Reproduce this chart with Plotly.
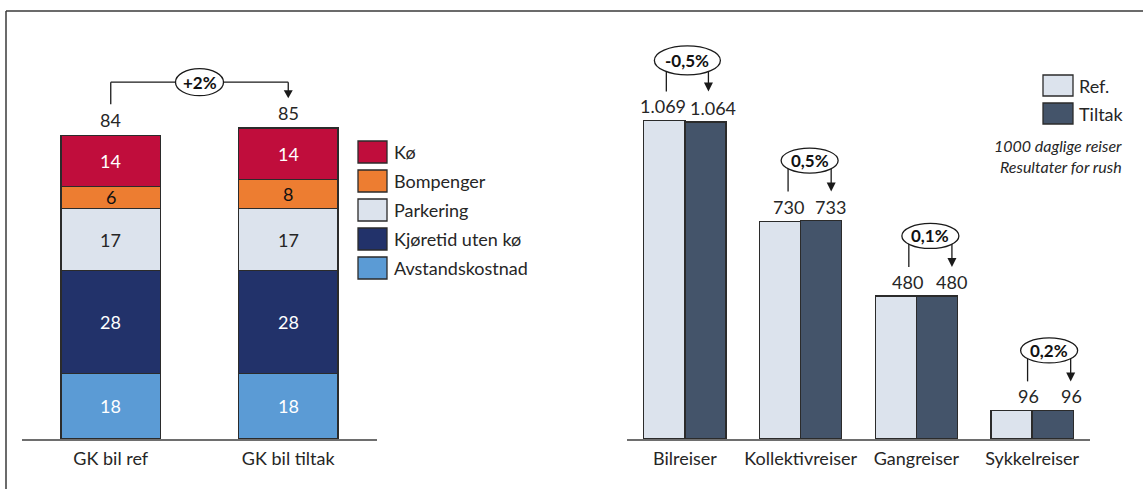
import plotly.graph_objects as go

W, H = 1143, 489

# ---- Left panel: generalised cost (GK) for car, stacked by component ----
gk_categories = ["GK bil ref", "GK bil tiltak"]
components = ["Avstandskostnad", "Kjøretid uten kø", "Parkering", "Bompenger", "Kø"]
avstandskostnad = [18, 18]
kjoretid_uten_ko = [28, 28]
parkering = [17, 17]
bompenger = [6, 8]
ko = [14, 14]
gk_totals = [84, 85]
gk_change = "+2%"

# ---- Right panel: daily trips by mode ----
trip_categories = ["Bilreiser", "Kollektivreiser", "Gangreiser", "Sykkelreiser"]
trips_ref = [1069, 730, 480, 96]
trips_tiltak = [1064, 733, 480, 96]
trip_labels_ref = ["1.069", "730", "480", "96"]
trip_labels_tiltak = ["1.064", "733", "480", "96"]
trip_changes = ["-0,5%", "0,5%", "0,1%", "0,2%"]
series_names = ["Ref.", "Tiltak"]
notes = ["1000 daglige reiser", "Resultater for rush"]

# ---- styling ----
FONT = "Lato, 'Open Sans', sans-serif"
TXT = "#262626"
EDGE = "#2b2b2b"
comp_colors = {
    "Avstandskostnad": "#5B9BD5",
    "Kjøretid uten kø": "#22326A",
    "Parkering": "#DCE3ED",
    "Bompenger": "#ED7D31",
    "Kø": "#C00D3C",
}
comp_text = {
    "Avstandskostnad": "white",
    "Kjøretid uten kø": "white",
    "Parkering": TXT,
    "Bompenger": "#111111",
    "Kø": "white",
}
ref_color = "#DCE3ED"
tiltak_color = "#44546A"

# plot area geometry (pixels from top / left)
Y_TOP, Y_BASE = 40, 439
PX_PER_GK = 3.66
PX_PER_TRIP = 0.298
plot_h = Y_BASE - Y_TOP
y_dom = [1 - Y_BASE / H, 1 - Y_TOP / H]


def px(x):
    return x / W


def py(y):
    return 1 - y / H


fig = go.Figure()

# stacked bars, bottom component first
comp_values = {
    "Avstandskostnad": avstandskostnad,
    "Kjøretid uten kø": kjoretid_uten_ko,
    "Parkering": parkering,
    "Bompenger": bompenger,
    "Kø": ko,
}
gk_x = list(range(len(gk_categories)))
for name in components:
    fig.add_trace(go.Bar(
        x=gk_x, y=comp_values[name], width=0.56, name=name,
        marker=dict(color=comp_colors[name], line=dict(color=EDGE, width=1.2)),
        xaxis="x", yaxis="y", showlegend=False, hoverinfo="skip",
    ))

# grouped bars for trips
BW = 0.355
trip_x = list(range(len(trip_categories)))
fig.add_trace(go.Bar(
    x=[i - BW / 2 for i in trip_x], y=trips_ref, width=BW, name=series_names[0],
    marker=dict(color=ref_color, line=dict(color=EDGE, width=1.3)),
    xaxis="x2", yaxis="y2", showlegend=False, hoverinfo="skip",
))
fig.add_trace(go.Bar(
    x=[i + BW / 2 for i in trip_x], y=trips_tiltak, width=BW, name=series_names[1],
    marker=dict(color=tiltak_color, line=dict(color=EDGE, width=1.3)),
    xaxis="x2", yaxis="y2", showlegend=False, hoverinfo="skip",
))

annotations = []
shapes = []
LINE = dict(color="#1a1a1a", width=1.3)
FS = 18

# segment labels in the stacks
for j in gk_x:
    cum = 0
    for name in components:
        v = comp_values[name][j]
        annotations.append(dict(
            x=j, y=cum + v / 2, xref="x", yref="y", text=str(v), showarrow=False,
            font=dict(family=FONT, size=FS, color=comp_text[name]),
        ))
        cum += v

stack_tops = [sum(comp_values[n][j] for n in components) for j in gk_x]

# totals above stacks
for j in gk_x:
    annotations.append(dict(
        x=j, y=stack_tops[j], xref="x", yref="y", text=str(gk_totals[j]),
        showarrow=False, yshift=15, font=dict(family=FONT, size=FS, color=TXT),
    ))

# change bracket between the two stacks (anchored at first stack's top)
a0 = stack_tops[0]
BR = 53
shapes += [
    dict(type="line", xref="x", yref="y", xsizemode="pixel", xanchor=0, x0=0, x1=0,
         ysizemode="pixel", yanchor=a0, y0=31, y1=BR, line=LINE),
    dict(type="line", xref="x", yref="y", x0=0, x1=1,
         ysizemode="pixel", yanchor=a0, y0=BR, y1=BR, line=LINE),
    dict(type="line", xref="x", yref="y", xsizemode="pixel", xanchor=1, x0=0, x1=0,
         ysizemode="pixel", yanchor=a0, y0=44, y1=BR, line=LINE),
    dict(type="path", xref="x", yref="y", xsizemode="pixel", xanchor=1,
         ysizemode="pixel", yanchor=a0, path="M -4.5,45 L 4.5,45 L 0,37 Z",
         fillcolor="#1a1a1a", line=dict(width=0)),
    dict(type="circle", xref="x", yref="y", xsizemode="pixel", xanchor=0.5,
         x0=-24, x1=24, ysizemode="pixel", yanchor=a0, y0=BR - 13.5, y1=BR + 13.5,
         fillcolor="white", line=LINE),
]
annotations.append(dict(
    x=0.5, y=a0, xref="x", yref="y", text="<b>%s</b>" % gk_change, showarrow=False,
    yshift=BR, font=dict(family=FONT, size=17, color="#111111"),
))

# trip value labels and change brackets (pixel nudges to the right)
ref_label_shift = [-1, 8, 12, 17]
tiltak_label_shift = [8, 9, 15, 19]
ref_line_shift = [2, 8, 13, 16]
tiltak_line_shift = [3, 10, 15, 18]
for i in trip_x:
    xr, xt = i - BW / 2, i + BW / 2
    annotations.append(dict(
        x=xr, y=trips_ref[i], xref="x2", yref="y2", text=trip_labels_ref[i],
        showarrow=False, xshift=ref_label_shift[i], yshift=14,
        font=dict(family=FONT, size=FS, color=TXT),
    ))
    annotations.append(dict(
        x=xt, y=trips_tiltak[i], xref="x2", yref="y2", text=trip_labels_tiltak[i],
        showarrow=False, xshift=tiltak_label_shift[i], yshift=14,
        font=dict(family=FONT, size=FS, color=TXT),
    ))
    top = max(trips_ref[i], trips_tiltak[i])
    sr, st = ref_line_shift[i], tiltak_line_shift[i]
    so = (sr + st) / 2
    ow = 9 * len(trip_changes[i]) + 21
    oh = 29 if i == 0 else 25
    shapes += [
        dict(type="line", xref="x2", yref="y2", xsizemode="pixel", xanchor=xr, x0=sr, x1=sr,
             ysizemode="pixel", yanchor=top, y0=29, y1=60, line=LINE),
        dict(type="line", xref="x2", yref="y2", xsizemode="pixel", xanchor=xt, x0=st, x1=st,
             ysizemode="pixel", yanchor=top, y0=37, y1=60, line=LINE),
        dict(type="path", xref="x2", yref="y2", xsizemode="pixel", xanchor=xt,
             ysizemode="pixel", yanchor=top,
             path="M %g,38 L %g,38 L %g,29 Z" % (st - 4.5, st + 4.5, st),
             fillcolor="#1a1a1a", line=dict(width=0)),
        dict(type="circle", xref="x2", yref="y2", xsizemode="pixel", xanchor=i,
             x0=so - ow / 2, x1=so + ow / 2, ysizemode="pixel", yanchor=top,
             y0=60 - oh / 2, y1=60 + oh / 2, fillcolor="white", line=LINE),
    ]
    annotations.append(dict(
        x=i, y=top, xref="x2", yref="y2", text="<b>%s</b>" % trip_changes[i],
        showarrow=False, xshift=so, yshift=60, font=dict(family=FONT, size=17, color="#111111"),
    ))

# legend for the stacked components (top to bottom)
leg_top = 141
for k, name in enumerate(reversed(components)):
    y0 = leg_top + k * 29
    shapes.append(dict(type="rect", xref="paper", yref="paper",
                       x0=px(358), x1=px(387), y0=py(y0), y1=py(y0 + 22),
                       fillcolor=comp_colors[name], line=dict(color=EDGE, width=1.3)))
    annotations.append(dict(x=px(392), y=py(y0 + 11), xref="paper", yref="paper",
                            text=name, showarrow=False, xanchor="left", yanchor="middle",
                            font=dict(family=FONT, size=FS, color=TXT)))

# legend for the trip series
for k, (name, col) in enumerate(zip(series_names, [ref_color, tiltak_color])):
    y0 = 75 + k * 28
    shapes.append(dict(type="rect", xref="paper", yref="paper",
                       x0=px(1043), x1=px(1073), y0=py(y0), y1=py(y0 + 21),
                       fillcolor=col, line=dict(color=EDGE, width=1.3)))
    annotations.append(dict(x=px(1077), y=py(y0 + 10.5), xref="paper", yref="paper",
                            text=name, showarrow=False, xanchor="left", yanchor="middle",
                            font=dict(family=FONT, size=FS, color=TXT)))
for k, note in enumerate(notes):
    annotations.append(dict(x=px(1124), y=py(145 + k * 21), xref="paper", yref="paper",
                            text="<i>%s</i>" % note, showarrow=False, xanchor="right",
                            yanchor="middle", font=dict(family=FONT, size=16, color=TXT)))

# outer frame (top and left edges)
frame = dict(color="#3a3a3a", width=1.5)
shapes.append(dict(type="line", xref="paper", yref="paper", x0=px(6), x1=1.0,
                   y0=py(11), y1=py(11), line=frame))
shapes.append(dict(type="line", xref="paper", yref="paper", x0=px(6), x1=px(6),
                   y0=py(11), y1=0, line=frame))

axis_common = dict(showgrid=False, zeroline=False, showline=True, linecolor="#6e6e6e",
                   linewidth=1.5, ticks="", ticklabelstandoff=3, fixedrange=True,
                   tickfont=dict(family=FONT, size=FS, color=TXT))
yaxis_common = dict(visible=False, showgrid=False, zeroline=False, fixedrange=True)

fig.update_layout(
    width=W, height=H, autosize=False,
    margin=dict(l=0, r=0, t=0, b=0),
    paper_bgcolor="white", plot_bgcolor="white",
    barmode="stack",
    xaxis=dict(domain=[px(22), px(377)], range=[-0.5, 1.5], tickvals=gk_x,
               ticktext=gk_categories, **axis_common),
    yaxis=dict(domain=y_dom, range=[0, plot_h / PX_PER_GK], **yaxis_common),
    xaxis2=dict(domain=[px(627), px(1090)], range=[-0.5, 3.5], tickvals=trip_x,
                ticktext=trip_categories, anchor="y2", **axis_common),
    yaxis2=dict(domain=y_dom, range=[0, plot_h / PX_PER_TRIP], anchor="x2", **yaxis_common),
    shapes=shapes,
    annotations=annotations,
    showlegend=False,
)

fig.write_html("out.html")
